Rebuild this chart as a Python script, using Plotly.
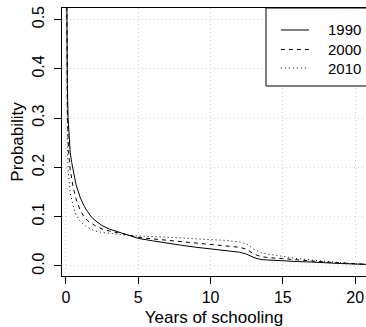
import plotly.graph_objects as go

# Years of schooling (x) and estimated probability per cohort
years = [0, 0.05, 0.1, 0.15, 0.2, 0.3, 0.4, 0.5, 0.7, 1.0, 1.25, 1.5, 1.75, 2, 2.5, 3,
         4, 5, 6, 7, 8, 9, 10, 11, 12, 12.5, 13, 13.5, 14, 15, 16, 17, 18, 19, 20, 21]

p1990 = [0.90, 0.50, 0.37, 0.30, 0.265, 0.23, 0.21, 0.195, 0.165, 0.138, 0.122, 0.110, 0.100,
         0.093, 0.082, 0.075, 0.065, 0.056, 0.051, 0.046, 0.042, 0.038, 0.035, 0.032, 0.028,
         0.024, 0.017, 0.013, 0.012, 0.011, 0.009, 0.008, 0.006, 0.005, 0.004, 0.003]

p2000 = [0.90, 0.45, 0.32, 0.26, 0.225, 0.195, 0.175, 0.160, 0.136, 0.112, 0.100, 0.092, 0.087,
         0.082, 0.075, 0.071, 0.065, 0.058, 0.055, 0.052, 0.049, 0.046, 0.044, 0.041, 0.038,
         0.034, 0.024, 0.019, 0.017, 0.015, 0.012, 0.010, 0.008, 0.006, 0.004, 0.003]

p2010 = [0.90, 0.40, 0.25, 0.195, 0.175, 0.148, 0.135, 0.122, 0.104, 0.090, 0.084, 0.078, 0.075,
         0.071, 0.068, 0.066, 0.063, 0.061, 0.060, 0.058, 0.057, 0.055, 0.054, 0.052, 0.049,
         0.045, 0.034, 0.027, 0.024, 0.019, 0.015, 0.012, 0.009, 0.007, 0.004, 0.003]

cohorts = ["1990", "2000", "2010"]
series = [p1990, p2000, p2010]
dashes = ["solid", "4px,4px", "1px,3px"]

x_ticks = [0, 5, 10, 15, 20]
y_ticks = [0.0, 0.1, 0.2, 0.3, 0.4, 0.5]

FONT = "Liberation Sans, Arial, sans-serif"
GRID = dict(showgrid=True, gridcolor="#d0d0d0", griddash="1px,3px", gridwidth=1, zeroline=False)

fig = go.Figure()
for name, vals, dash in zip(cohorts, series, dashes):
    fig.add_trace(go.Scatter(
        x=years, y=vals, mode="lines", name=name, showlegend=False,
        line=dict(color="black", width=1, dash=dash),
    ))

# Boxed legend in the top-right corner
leg_x0, leg_y0 = 0.671, 0.709
line_x0, line_x1, text_x = 0.720, 0.8125, 0.868
rows_y = [0.918, 0.845, 0.776]
shapes = [dict(type="rect", xref="paper", yref="paper", x0=leg_x0, x1=1.05,
               y0=leg_y0, y1=1.0, line=dict(color="black", width=1),
               fillcolor="white", layer="above")]
annotations = []
for name, dash, yy in zip(cohorts, dashes, rows_y):
    shapes.append(dict(type="line", xref="paper", yref="paper", x0=line_x0, x1=line_x1,
                       y0=yy, y1=yy, line=dict(color="black", width=1, dash=dash),
                       layer="above"))
    annotations.append(dict(xref="paper", yref="paper", x=text_x, y=yy, text=name,
                            showarrow=False, xanchor="left", yanchor="middle",
                            font=dict(family=FONT, size=15, color="black")))

fig.update_layout(
    width=366, height=327,
    margin=dict(l=62, r=0, t=8, b=51),
    paper_bgcolor="white", plot_bgcolor="white",
    font=dict(family=FONT, size=16, color="black"),
    shapes=shapes, annotations=annotations,
    xaxis=dict(
        range=[-0.27, 20.75], tickvals=x_ticks, ticks="outside", ticklen=7,
        tickcolor="black", showline=True, linecolor="black", linewidth=1.3, mirror=True,
        title=dict(text="Years of schooling", font=dict(size=17), standoff=8),
        **GRID,
    ),
    yaxis=dict(
        range=[-0.0203, 0.5233], tickvals=y_ticks, tickformat=".1f", tickangle=-90,
        ticks="outside", ticklen=7, tickcolor="black", showline=True, linecolor="black",
        linewidth=1.3, ticklabelstandoff=3,
        title=dict(text="Probability", font=dict(size=17), standoff=2),
        **GRID,
    ),
)

fig.write_html("out.html")
